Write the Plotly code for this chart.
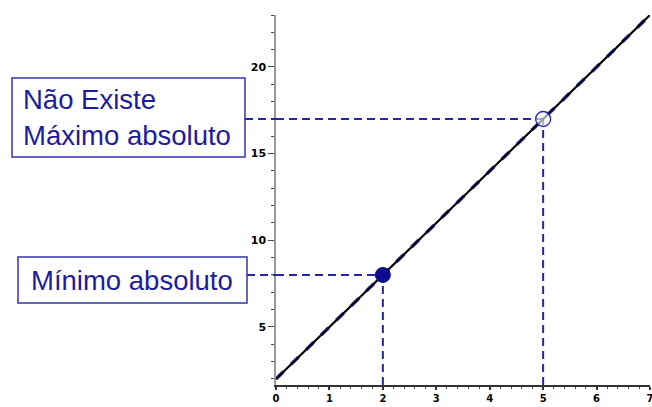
import plotly.graph_objects as go

# f(x) = 3x + 2 on [0, 7]
line_x = [0, 7]
line_y = [2, 23]

# absolute minimum (attained) and the excluded endpoint
min_point = (2, 8)
open_point = (5, 17)

x_ticks = [0, 1, 2, 3, 4, 5, 6, 7]
y_ticks = [5, 10, 15, 20]

label_top = "Não Existe<br>Máximo absoluto"
label_bottom = "Mínimo absoluto"

W, H = 652, 407
M_L, M_R, M_T, M_B = 276, 2, 15, 22
PLOT_W = W - M_L - M_R
PLOT_H = H - M_T - M_B
Y_MIN = 1.65


def px(X):
    return (X - M_L) / PLOT_W


def py(Y):
    return (H - M_B - Y) / PLOT_H


BLUE = "#2626a6"
TEXT_BLUE = "#1c1ca0"
DASH = "8px,5px"

fig = go.Figure()

# faint blue dashed trace under the black curve
fig.add_trace(go.Scatter(x=line_x, y=line_y, mode="lines",
                         line=dict(color="#3a3ad0", width=3.5, dash="dash"),
                         hoverinfo="skip", showlegend=False))
fig.add_trace(go.Scatter(x=line_x, y=line_y, mode="lines",
                         line=dict(color="black", width=2.2),
                         showlegend=False))

fig.add_trace(go.Scatter(x=[min_point[0]], y=[min_point[1]], mode="markers",
                         marker=dict(size=15, color="#0c0c8c",
                                     line=dict(color="#0c0c8c", width=1)),
                         showlegend=False, cliponaxis=False))
fig.add_trace(go.Scatter(x=[open_point[0]], y=[open_point[1]], mode="markers",
                         marker=dict(size=15, color="rgba(255,255,255,0.6)",
                                     line=dict(color=BLUE, width=1.3)),
                         showlegend=False, cliponaxis=False))

shapes = []
# dashed guides: from the label box to the point, and from the point down to the x axis
for (X_box, pt) in [(245, open_point), (247, min_point)]:
    guide = dict(color=BLUE, width=2, dash=DASH)
    shapes.append(dict(type="line", xref="paper", yref="y",
                       x0=px(X_box), x1=0, y0=pt[1], y1=pt[1], line=guide))
    shapes.append(dict(type="line", xref="x", yref="y",
                       x0=0, x1=pt[0], y0=pt[1], y1=pt[1], line=guide, layer="below"))
    shapes.append(dict(type="line", xref="x", yref="y",
                       x0=pt[0], x1=pt[0], y0=Y_MIN, y1=pt[1], line=guide, layer="below"))

# label boxes
for (x0, y0, x1, y1) in [(12, 78, 245, 157), (18, 257, 247, 303)]:
    shapes.append(dict(type="rect", xref="paper", yref="paper",
                       x0=px(x0), x1=px(x1), y0=py(y1), y1=py(y0),
                       line=dict(color="#3434ac", width=1.5),
                       fillcolor="rgba(0,0,0,0)"))

label_font = dict(family="Liberation Sans, Arial", size=27.5, color=TEXT_BLUE)
annotations = [
    dict(text=label_top, xref="paper", yref="paper", x=px(21), y=py(117.5),
         xanchor="left", yanchor="middle", align="left", showarrow=False,
         font=label_font),
    dict(text=label_bottom, xref="paper", yref="paper", x=px(29), y=py(280),
         xanchor="left", yanchor="middle", align="left", showarrow=False,
         font=label_font),
]

x_tick_font = dict(family="DejaVu Sans, Arial", size=10, color="black", weight="bold")
y_tick_font = dict(family="DejaVu Sans, Arial", size=11, color="black", weight="bold")

fig.update_layout(
    width=W, height=H,
    margin=dict(l=M_L, r=M_R, t=M_T, b=M_B, pad=0, autoexpand=False),
    paper_bgcolor="white", plot_bgcolor="white",
    shapes=shapes, annotations=annotations,
    xaxis=dict(range=[0, 7], tickvals=x_ticks, ticktext=[str(v) for v in x_ticks],
               showgrid=False, zeroline=False, showline=True, automargin=False,
               linecolor="#333333", linewidth=2,
               ticks="outside", ticklen=3, tickwidth=1.5, tickcolor="#333333",
               tickfont=x_tick_font, ticklabeloverflow="allow",
               minor=dict(dtick=0.2, tick0=0, ticks="outside", ticklen=2,
                          tickwidth=1, tickcolor="#444444", showgrid=False)),
    yaxis=dict(range=[Y_MIN, 23], tickvals=y_ticks, ticktext=[str(v) for v in y_ticks],
               showgrid=False, zeroline=False, showline=True, automargin=False,
               linecolor="#999999", linewidth=1.5,
               ticks="outside", ticklen=6, tickwidth=1.2, tickcolor="#444444",
               tickfont=y_tick_font, ticklabeloverflow="allow",
               minor=dict(dtick=1, tick0=0, ticks="outside", ticklen=3,
                          tickwidth=1, tickcolor="#444444", showgrid=False)),
)

fig.write_html("out.html")
